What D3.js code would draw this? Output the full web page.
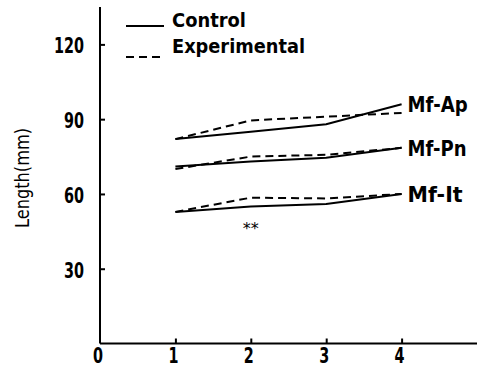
<!DOCTYPE html>
<html><head><meta charset="utf-8">
<script src="https://cdn.jsdelivr.net/npm/d3@7"></script>
<style>body{margin:0;background:#fff}svg{display:block}text{font-family:"DejaVu Sans",sans-serif;font-weight:bold;fill:#000}</style>
</head><body><svg id="c" width="477" height="381"></svg>
<script>
const weeks = [1, 2, 3, 4];
const xTicks = [0, 1, 2, 3, 4];
const yTicks = [30, 60, 90, 120];
const muscles = ["Mf-Ap", "Mf-Pn", "Mf-It"];
const muscleLabelWidths = [60, 59, 55];
const controlAp = [82, 85, 88, 96];
const experimentalAp = [82, 89.5, 91, 92.5];
const controlPn = [71, 73, 74.5, 78.5];
const experimentalPn = [70, 75, 75.7, 78.5];
const controlIt = [52.8, 55, 56, 60];
const experimentalIt = [52.8, 58.5, 58.2, 60];
const legendLabels = ["Control", "Experimental"];
const annotation = {x: 2, y: 47, text: "**"};

const svg = d3.select("#c");
const x = d3.scaleLinear().domain([0, 5]).range([100, 477]);
const y = d3.scaleLinear().domain([0, 135]).range([343.5, 7]);

// axes
const yAxis = svg.append("g").attr("transform", "translate(100,0)")
  .call(d3.axisRight(y).tickValues(yTicks).tickSize(5).tickFormat(""));
yAxis.select(".domain").attr("d", `M0,${y(135)}V${y(0)}`).attr("stroke-width", 2);
yAxis.selectAll(".tick line").attr("stroke-width", 2);
const xAxis = svg.append("g").attr("transform", `translate(0,${y(0)})`)
  .call(d3.axisTop(x).tickValues([1,2,3,4]).tickSize(5).tickFormat(""));
xAxis.select(".domain").attr("d", `M${x(0)},0H${x(5)}`).attr("stroke-width", 2);
xAxis.selectAll(".tick line").attr("stroke-width", 2);

svg.selectAll(".ylab").data(yTicks).enter().append("text")
  .attr("x", 84).attr("y", d => y(d) + 3).attr("text-anchor", "end")
  .attr("dominant-baseline", "middle").attr("font-size", 21)
  .attr("textLength", d => String(d).length * 10).attr("lengthAdjust", "spacingAndGlyphs").text(d => d);
svg.selectAll(".xlab").data(xTicks).enter().append("text")
  .attr("x", d => x(d) - 2).attr("y", 363).attr("text-anchor", "middle")
  .attr("font-size", 22).attr("textLength", 10).attr("lengthAdjust", "spacingAndGlyphs").text(d => d);

svg.append("text").attr("transform", `translate(29,178) rotate(-90)`)
  .attr("text-anchor", "middle").attr("font-size", 19).style("font-weight", "normal")
  .attr("textLength", 100).attr("lengthAdjust", "spacingAndGlyphs").text("Length(mm)");

const line = d3.line().x((d, i) => x(weeks[i])).y(d => y(d));
const series = [
  [controlAp, experimentalAp], [controlPn, experimentalPn], [controlIt, experimentalIt]
];
series.forEach((s, k) => {
  svg.append("path").attr("d", line(s[0])).attr("fill", "none").attr("stroke", "#000").attr("stroke-width", 2);
  svg.append("path").attr("d", line(s[1])).attr("fill", "none").attr("stroke", "#000").attr("stroke-width", 2).attr("stroke-dasharray", "8,5");
  const endV = Math.max(s[0][3], s[1][3]);
  svg.append("text").attr("x", x(4) + 6).attr("y", y(endV) + 2).attr("dominant-baseline", "middle")
    .attr("font-size", 21).attr("textLength", muscleLabelWidths[k]).attr("lengthAdjust", "spacingAndGlyphs").text(muscles[k]);
});

svg.append("text").attr("x", x(annotation.x)).attr("y", y(annotation.y) + 8)
  .attr("text-anchor", "middle").attr("font-size", 16).style("font-weight", "normal").text(annotation.text);

// legend
const lg = [{dash: null, ly: 26, ty: 27, w: 74}, {dash: "8,5", ly: 57, ty: 53, w: 133}];
lg.forEach((d, i) => {
  svg.append("line").attr("x1", 126).attr("x2", 164).attr("y1", d.ly).attr("y2", d.ly)
    .attr("stroke", "#000").attr("stroke-width", 2).attr("stroke-dasharray", d.dash);
  svg.append("text").attr("x", 172).attr("y", d.ty)
    .attr("font-size", 20).attr("textLength", d.w).attr("lengthAdjust", "spacingAndGlyphs").text(legendLabels[i]);
});
</script></body></html>
